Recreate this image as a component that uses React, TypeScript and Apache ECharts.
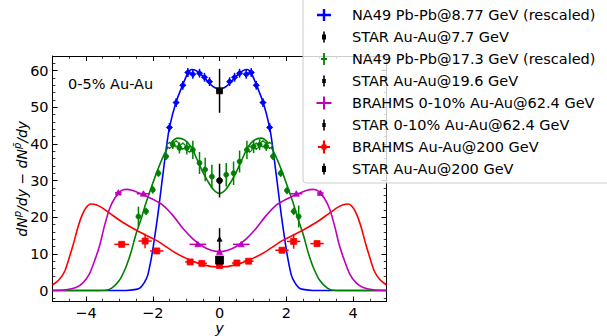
import React, { useEffect, useRef } from "react";
import * as echarts from "echarts";

const FONT = "DejaVu Sans";
const FS = 14.5;

// ---- tick values ----
const xTicks = [-4, -2, 0, 2, 4];
const yTicks = [0, 10, 20, 30, 40, 50, 60];
const yMinorTicks = [-2, 0, 2, 4, 6, 8, 10, 12, 14, 16, 18, 20, 22, 24, 26, 28, 30, 32, 34, 36, 38, 40, 42, 44, 46, 48, 50, 52, 54, 56, 58, 60, 62, 64];

// ---- legend names ----
const names = [
  "NA49 Pb-Pb@8.77 GeV (rescaled)",
  "STAR Au-Au@7.7 GeV",
  "NA49 Pb-Pb@17.3 GeV (rescaled)",
  "STAR Au-Au@19.6 GeV",
  "BRAHMS 0-10% Au-Au@62.4 GeV",
  "STAR 0-10% Au-Au@62.4 GeV",
  "BRAHMS Au-Au@200 GeV",
  "STAR Au-Au@200 GeV",
];
const colors = ["#0000ff", "#000000", "#008000", "#000000", "#bf00bf", "#000000", "#ff0000", "#000000"];

// ---- NA49 8.77 GeV ----
const na49a_x = [-1.5, -1.3, -1.1, -0.95, -0.8, -0.6, -0.45, -0.3, 0.3, 0.45, 0.6, 0.8, 0.95, 1.1, 1.3, 1.5];
const na49a_y = [44.5, 51.3, 56, 59.5, 59, 59.3, 58.2, 57, 57, 58.2, 59.3, 59, 59.5, 56, 51.3, 44.5];
const na49a_xe = [0.08, 0.08, 0.08, 0.08, 0.08, 0.08, 0.08, 0.08, 0.08, 0.08, 0.08, 0.08, 0.08, 0.08, 0.08, 0.08];
const na49a_ye = [1.2, 1.2, 1.2, 1.2, 1.2, 1.2, 1.2, 1.2, 1.2, 1.2, 1.2, 1.2, 1.2, 1.2, 1.2, 1.2];

// ---- STAR 7.7 ----
const star77_x = [0];
const star77_y = [54.5];
const star77_ye = [6];

// ---- NA49 17.3 GeV ----
const na49b_x = [-2.43, -2.2, -2.0, -1.83, -1.6, -1.4, -1.2, -0.98, -0.8, -0.6, -0.43, -0.23, 0.2, 0.42, 0.6, 0.82, 1.02, 1.2, 1.4, 1.6, 1.83, 2.02, 2.22, 2.37];
const na49b_y = [20.2, 21.6, 27.5, 32, 36.6, 39.8, 38.9, 38.9, 38.4, 34.8, 33, 31.1, 31.6, 32, 35.2, 38.4, 39.3, 39.8, 39.3, 36.6, 32, 27.3, 21.6, 20.2];
const na49b_ye = [2.7, 1, 1, 1, 1, 1.2, 1.5, 1.8, 2.5, 3, 3.2, 3.2, 3.2, 3.2, 3, 2.5, 1.8, 1.5, 1.2, 1, 1, 1, 1, 3];
const na49b_xe = [0, 0, 0, 0, 0, 0, 0, 0, 0, 0, 0, 0, 0, 0, 0, 0, 0, 0, 0, 0, 0, 0, 0, 0];
const na49bOpen_x = [-1.5, -1.3, -1.1, -0.9, 0.9, 1.1, 1.3, 1.5];
const na49bOpen_y = [39.6, 40, 39.4, 38.6, 38.6, 39.4, 40, 39.6];
const na49bOpen_ye = [1, 1, 1, 1, 1, 1, 1, 1];

// ---- STAR 19.6 ----
const star196_x = [0];
const star196_y = [30];
const star196_ye = [4.6];

// ---- BRAHMS 62.4 ----
const brahms62_x = [-3.03, -2.28, -0.65, 0, 0.65, 2.3, 3.02];
const brahms62_y = [26.7, 26.4, 12.6, 10.5, 12.6, 26.4, 26.6];
const brahms62_xe = [0.1, 0.2, 0.25, 0.05, 0.25, 0.18, 0.1];
const brahms62_ye = [0.5, 0.6, 0.5, 0.5, 0.5, 0.6, 0.5];

// ---- STAR 62.4 ----
const star62_x = [0];
const star62_y = [14];
const star62_ye = [3];

// ---- BRAHMS 200 ----
const brahms200_x = [-2.93, -2.23, -1.88, -0.88, -0.53, 0, 0.52, 0.87, 1.87, 2.22, 2.92];
const brahms200_y = [12.6, 13.5, 10.8, 7.8, 7.4, 6.8, 7.5, 8, 11, 13.4, 12.8];
const brahms200_xe = [0.22, 0.2, 0.2, 0.15, 0.15, 0.1, 0.15, 0.15, 0.2, 0.2, 0.2];
const brahms200_ye = [0.8, 2, 0.8, 0.6, 0.6, 0.6, 0.6, 0.6, 0.8, 2, 0.8];

// ---- STAR 200 ----
const star200_x = [0];
const star200_y = [8.3];
const star200_ye = [1];

// ---- model curves ----
const fit877 = [
  [-5, 0], [-2.8, 0], [-2.5, 0.3], [-2.37, 0.8], [-2.25, 2.2], [-2.15, 4.2], [-2.05, 8.5], [-1.98, 12.3], [-1.85, 20.5], [-1.72, 30], [-1.6, 38.5], [-1.5, 44.5], [-1.3, 51.5], [-1.1, 56.2], [-0.95, 59.3], [-0.83, 60.3], [-0.7, 60], [-0.5, 58.5], [-0.3, 56.5], [-0.15, 55.4], [0, 55],
  [0.15, 55.4], [0.3, 56.5], [0.5, 58.5], [0.7, 60], [0.83, 60.3], [0.95, 59.3], [1.1, 56.2], [1.3, 51.5], [1.5, 44.5], [1.6, 38.5], [1.72, 30], [1.85, 20.5], [1.98, 12.3], [2.05, 8.5], [2.15, 4.2], [2.25, 2.2], [2.37, 0.8], [2.5, 0.3], [2.8, 0], [5, 0],
];
const fit173 = [
  [-5, 0], [-3.6, 0], [-3.3, 0.3], [-3.0, 2.8], [-2.8, 6.5], [-2.65, 10.5], [-2.5, 15.5], [-2.35, 19.5], [-2.2, 24], [-2.05, 28], [-1.85, 33], [-1.65, 37.3], [-1.45, 40.3], [-1.25, 41.6], [-1.05, 41.1], [-0.85, 39.2], [-0.68, 35.9], [-0.5, 32.3], [-0.35, 29.8], [-0.18, 27.5], [0, 26.5],
  [0.18, 27.5], [0.35, 29.8], [0.5, 32.3], [0.68, 35.9], [0.85, 39.2], [1.05, 41.1], [1.25, 41.6], [1.45, 40.3], [1.65, 37.3], [1.85, 33], [2.05, 28], [2.2, 24], [2.35, 19.5], [2.5, 15.5], [2.65, 10.5], [2.8, 6.5], [3.0, 2.8], [3.3, 0.3], [3.6, 0], [5, 0],
];
const fit624 = [
  [-5, 0], [-4.6, 0.2], [-4.3, 0.8], [-4.1, 2], [-3.9, 4.5], [-3.72, 8.7], [-3.58, 12.6], [-3.45, 17.5], [-3.3, 22.2], [-3.13, 25.3], [-2.95, 27.2], [-2.8, 27.6], [-2.6, 27.3], [-2.35, 26.4], [-2.0, 24.9], [-1.7, 23.3], [-1.4, 20.5], [-1.1, 17], [-0.8, 14.1], [-0.5, 12], [-0.25, 11], [0, 10.6],
  [0.25, 11], [0.5, 12], [0.8, 14.1], [1.1, 17], [1.4, 20.5], [1.7, 23.3], [2.0, 24.9], [2.35, 26.4], [2.6, 27.3], [2.8, 27.6], [2.95, 27.2], [3.13, 25.3], [3.3, 22.2], [3.45, 17.5], [3.58, 12.6], [3.72, 8.7], [3.9, 4.5], [4.1, 2], [4.3, 0.8], [4.6, 0.2], [5, 0],
];
const fit200 = [
  [-5, 1.5], [-4.8, 3], [-4.63, 5.4], [-4.5, 9], [-4.38, 12.6], [-4.25, 17], [-4.12, 20.5], [-4.0, 22.6], [-3.85, 23.6], [-3.7, 23.4], [-3.5, 22.5], [-3.2, 20.5], [-2.88, 18.5], [-2.38, 15.9], [-1.88, 13.6], [-1.38, 10.6], [-0.98, 8.7], [-0.48, 7], [0, 6.4],
  [0.48, 7], [0.98, 8.7], [1.38, 10.6], [1.88, 13.6], [2.38, 15.9], [2.88, 18.5], [3.2, 20.5], [3.5, 22.5], [3.7, 23.4], [3.85, 23.6], [4.0, 22.6], [4.12, 20.5], [4.25, 17], [4.38, 12.6], [4.5, 9], [4.63, 5.4], [4.8, 3], [5, 1.5],
];

// ---- legend icons (box 37x16, symbol centred at x=14) ----
const anchors = "M0 0h0.01v0.01h-0.01z M36.99 15.99h0.01v0.01h-0.01z ";
const legendIcons = [
  anchors + "M12.8 2h2.4v12h-2.4z M7 6.8h14v2.4h-14z",
  anchors + "M13.2 2.5h1.6v11h-1.6z M12 5.5h4v5h-4z",
  anchors + "M13.1 2h1.8v12h-1.8z M11 7h6v2h-6z",
  anchors + "M13.2 2.5h1.6v11h-1.6z M12.2 6h3.6v4h-3.6z",
  anchors + "M13 1.5h2v13h-2z M6.5 7h15v2h-15z",
  anchors + "M13.2 2.5h1.6v11h-1.6z M12.3 6h3.4v4h-3.4z",
  anchors + "M12.9 1.5h2.2v13h-2.2z M8 6.9h12v2.2h-12z M11.5 5.5h5v5h-5z",
  anchors + "M13.2 2.5h1.6v11h-1.6z M12 5h4v6h-4z",
];

const fmt = (v: number) => (v < 0 ? "\u2212" + Math.abs(v) : String(v));

function markerShape(kind: string, c: number[], s: number, color: string, open: boolean) {
  const style = { fill: open ? "#ffffff" : color, stroke: color, lineWidth: open ? 1.2 : 0.8 };
  const h = s / 2;
  if (kind === "square") return { type: "rect", shape: { x: c[0] - h, y: c[1] - h, width: s, height: s }, style };
  if (kind === "circle") return { type: "circle", shape: { cx: c[0], cy: c[1], r: h }, style };
  if (kind === "triangle")
    return { type: "polygon", shape: { points: [[c[0], c[1] - h], [c[0] + h, c[1] + h * 0.8], [c[0] - h, c[1] + h * 0.8]] }, style };
  return { type: "polygon", shape: { points: [[c[0], c[1] - h], [c[0] + h, c[1]], [c[0], c[1] + h], [c[0] - h, c[1]]] }, style };
}

function errSeries(name: string, xs: number[], ys: number[], xe: number[], ye: number[], color: string, kind: string, size: number, open = false, z = 4) {
  const data = xs.map((x, i) => [x, ys[i], xe[i], ye[i]]);
  return {
    type: "custom",
    name,
    z,
    xAxisIndex: 0,
    yAxisIndex: 0,
    itemStyle: { color },
    encode: { x: 0, y: 1 },
    data,
    renderItem: (_p: any, api: any) => {
      const x = api.value(0), y = api.value(1), ex = api.value(2), ey = api.value(3);
      const c = api.coord([x, y]);
      const children: any[] = [];
      if (ex > 0) {
        const l = api.coord([x - ex, y]);
        const r = api.coord([x + ex, y]);
        children.push({ type: "line", shape: { x1: l[0], y1: l[1], x2: r[0], y2: r[1] }, style: { stroke: color, lineWidth: 1.5 } });
      }
      if (ey > 0) {
        const t = api.coord([x, y + ey]);
        const b = api.coord([x, y - ey]);
        children.push({ type: "line", shape: { x1: t[0], y1: t[1], x2: b[0], y2: b[1] }, style: { stroke: color, lineWidth: 1.5 } });
      }
      children.push(markerShape(kind, c, size, color, open));
      return { type: "group", children };
    },
  };
}

function curve(name: string, data: number[][], color: string) {
  return {
    type: "line",
    name,
    data,
    xAxisIndex: 0,
    yAxisIndex: 0,
    showSymbol: false,
    smooth: 0.25,
    z: 2,
    lineStyle: { color, width: 1.6 },
    itemStyle: { color },
  };
}

const zero = (n: number) => new Array(n).fill(0);

const axisLineStyle = { show: true, onZero: false, lineStyle: { color: "#000", width: 1 } };
const majorTick = (vals: number[]) => ({ show: true, inside: true, length: 5, customValues: vals, lineStyle: { color: "#000", width: 1 } });
const minorTick = { show: true, inside: true, length: 2.8, lineStyle: { color: "#000", width: 0.8 } };

const option: any = {
  animation: false,
  grid: { left: 52.6, right: 220.5, top: 56, bottom: 34.5, containLabel: false, outerBoundsMode: "none" },
  xAxis: [
    {
      type: "value", min: -5, max: 5, position: "bottom", splitLine: { show: false },
      axisLine: axisLineStyle, axisTick: majorTick(xTicks),
      axisLabel: { customValues: xTicks, formatter: fmt, fontSize: FS, lineHeight: 14, color: "#000", fontFamily: FONT, margin: 4 },
      name: "y", nameLocation: "middle", nameGap: 19, nameMoveOverlap: false,
      nameTextStyle: { fontStyle: "italic", fontSize: FS, color: "#000", fontFamily: FONT, lineHeight: 14 },
    },
    { type: "value", min: -5, max: 5, interval: 0.5, position: "bottom", splitLine: { show: false }, axisLine: { show: false, onZero: false }, axisTick: minorTick, axisLabel: { show: false } },
    { type: "value", min: -5, max: 5, position: "top", splitLine: { show: false }, axisLine: axisLineStyle, axisTick: majorTick(xTicks), axisLabel: { show: false } },
    { type: "value", min: -5, max: 5, interval: 0.5, position: "top", splitLine: { show: false }, axisLine: { show: false, onZero: false }, axisTick: minorTick, axisLabel: { show: false } },
  ],
  yAxis: [
    {
      type: "value", min: -3, max: 64, position: "left", splitLine: { show: false },
      axisLine: axisLineStyle, axisTick: majorTick(yTicks),
      axisLabel: { customValues: yTicks, fontSize: FS, color: "#000", fontFamily: FONT, margin: 4 },
      name: "{i|dN}{s|p}{i|/dy \u2212 dN}{s|p\u0304}{i|/dy}",
      nameLocation: "middle", nameGap: 22, nameRotate: 90, nameMoveOverlap: false,
      nameTextStyle: {
        color: "#000", fontFamily: FONT, fontSize: 14,
        rich: {
          i: { fontStyle: "italic", fontSize: 14, fontFamily: FONT, color: "#000", lineHeight: 18 },
          s: { fontStyle: "italic", fontSize: 10, fontFamily: FONT, color: "#000", verticalAlign: "top", lineHeight: 13 },
        },
      },
    },
    { type: "value", min: -3, max: 64, position: "left", splitLine: { show: false }, axisLine: { show: false, onZero: false }, axisTick: { ...minorTick, customValues: yMinorTicks }, axisLabel: { show: false } },
    { type: "value", min: -3, max: 64, position: "right", splitLine: { show: false }, axisLine: axisLineStyle, axisTick: majorTick(yTicks), axisLabel: { show: false } },
    { type: "value", min: -3, max: 64, position: "right", splitLine: { show: false }, axisLine: { show: false, onZero: false }, axisTick: { ...minorTick, customValues: yMinorTicks }, axisLabel: { show: false } },
  ],
  legend: {
    orient: "vertical",
    left: 310,
    top: 7,
    padding: 0,
    itemWidth: 37,
    itemHeight: 16,
    itemGap: 6,
    selectedMode: false,
    z: 10,
    textStyle: { fontSize: FS, color: "#000", fontFamily: FONT },
    data: names.map((n, i) => ({ name: n, icon: "path://" + legendIcons[i], itemStyle: { color: colors[i] } })),
  },
  graphic: {
    elements: [
      {
        type: "rect", z: 8,
        shape: { x: 303, y: -6, width: 330, height: 189, r: 3 },
        style: { fill: "rgba(255,255,255,0.8)", stroke: "#cccccc", lineWidth: 1 },
      },
      {
        type: "text", z: 8, x: 68, y: 84,
        style: { text: "0-5% Au-Au", fontSize: FS, fontFamily: FONT, fill: "#000", verticalAlign: "middle" },
      },
    ],
  },
  series: [
    curve("fit 8.77", fit877, "#0000ff"),
    curve("fit 17.3", fit173, "#008000"),
    curve("fit 62.4", fit624, "#bf00bf"),
    curve("fit 200", fit200, "#ff0000"),
    errSeries(names[0], na49a_x, na49a_y, na49a_xe, na49a_ye, "#0000ff", "diamond", 6),
    errSeries("NA49 17.3 reflected", na49bOpen_x, na49bOpen_y, zero(8), na49bOpen_ye, "#008000", "circle", 5, true),
    errSeries(names[2], na49b_x, na49b_y, na49b_xe, na49b_ye, "#008000", "circle", 5),
    errSeries(names[4], brahms62_x, brahms62_y, brahms62_xe, brahms62_ye, "#bf00bf", "triangle", 6),
    errSeries(names[6], brahms200_x, brahms200_y, brahms200_xe, brahms200_ye, "#ff0000", "square", 6),
    errSeries(names[1], star77_x, star77_y, zero(1), star77_ye, "#000000", "square", 6, false, 5),
    errSeries(names[3], star196_x, star196_y, zero(1), star196_ye, "#000000", "circle", 6, false, 5),
    errSeries(names[5], star62_x, star62_y, zero(1), star62_ye, "#000000", "triangle", 5, false, 5),
    errSeries(names[7], star200_x, star200_y, zero(1), star200_ye, "#000000", "square", 8, false, 5),
  ],
};

export default function App() {
  const ref = useRef<HTMLDivElement>(null);
  useEffect(() => {
    const chart = echarts.init(ref.current!, null, { renderer: "svg" });
    chart.setOption(option);
    return () => chart.dispose();
  }, []);
  return <div ref={ref} style={{ position: "absolute", left: 0, top: 0, width: 607, height: 336 }} />;
}
